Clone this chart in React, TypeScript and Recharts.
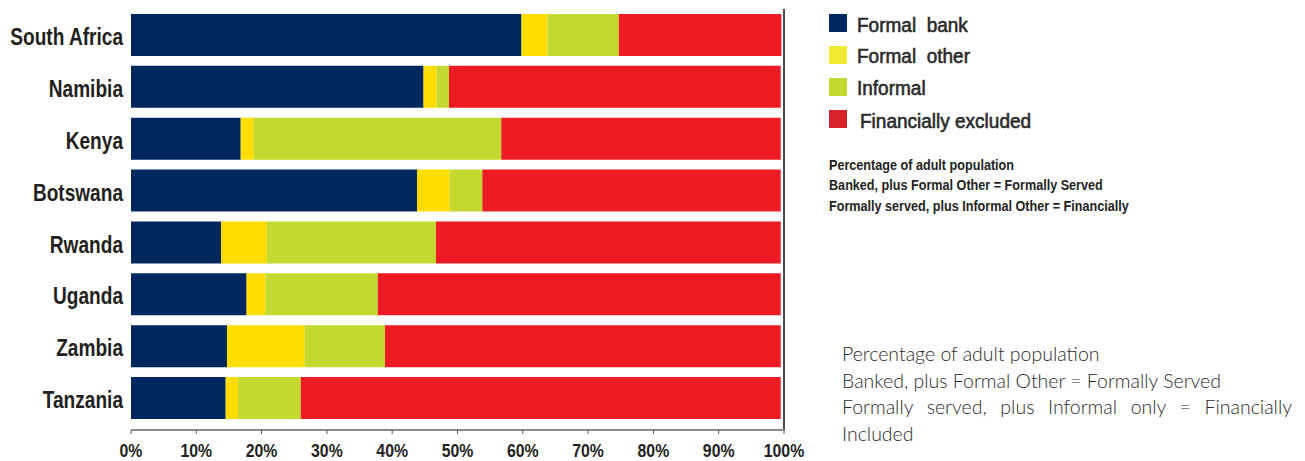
import React from "react";
import { BarChart, Bar, XAxis, YAxis, ReferenceLine } from "recharts";

const countries = ["South Africa", "Namibia", "Kenya", "Botswana", "Rwanda", "Uganda", "Zambia", "Tanzania"];
const formalBank = [59.8, 44.8, 16.8, 43.8, 13.8, 17.7, 14.7, 14.5];
const formalOther = [4.0, 2.0, 2.0, 5.0, 7.0, 2.9, 11.9, 1.9];
const informal = [10.9, 1.9, 37.9, 5.0, 25.9, 17.2, 12.3, 9.6];
const excluded = [24.9, 50.8, 42.8, 45.7, 52.8, 61.7, 60.6, 73.5];
const xTicks = [0, 10, 20, 30, 40, 50, 60, 70, 80, 90, 100];

const seriesNames = ["Formal  bank", "Formal  other", "Informal", "Financially excluded"];
const barColors = ["#00285e", "#ffdd00", "#c3d92f", "#ed1c24"];
const legendColors = ["#00285e", "#f3ea33", "#c3d92f", "#d8222b"];

const notesSmall = [
  "Percentage of adult population",
  "Banked, plus Formal Other = Formally Served",
  "Formally served, plus Informal Other = Financially",
];

const data = countries.map((c, i) => ({
  country: c,
  bank: formalBank[i],
  other: formalOther[i],
  informal: informal[i],
  excluded: excluded[i],
}));

const SANS = "'Liberation Sans', Arial, sans-serif";

const YTick = (props: any) => {
  const { x, y, payload } = props;
  return (
    <g transform={`translate(${x},${y + 2})`}>
      <text
        transform="scale(0.83,1)"
        textAnchor="end"
        dy="0.355em"
        fill="#231f20"
        fontSize={23}
        fontWeight={700}
        fontFamily={SANS}
      >
        {payload.value}
      </text>
    </g>
  );
};

const XTick = (props: any) => {
  const { x, y, payload } = props;
  return (
    <g transform={`translate(${x},${y})`}>
      <text
        transform="scale(0.88,1)"
        textAnchor="middle"
        dy="0.71em"
        fill="#231f20"
        fontSize={18}
        fontWeight={700}
        fontFamily={SANS}
      >
        {`${payload.value}%`}
      </text>
    </g>
  );
};

export default function App() {
  const legendTops = [14, 45.5, 78, 110];
  const legendBaselines = [33, 64.4, 95.7, 128.7];
  return (
    <div style={{ position: "absolute", left: 0, top: 0, width: 1305, height: 461, background: "#fff", overflow: "hidden" }}>
      <BarChart
        width={1305}
        height={461}
        data={data}
        layout="vertical"
        margin={{ top: 9, right: 521, bottom: 0, left: 0 }}
        barCategoryGap="9.5%"
      >
        <XAxis
          type="number"
          domain={[0, 100]}
          ticks={xTicks}
          height={31}
          axisLine={{ stroke: "#8c8c8c", strokeWidth: 2 }}
          tickLine={{ stroke: "#555" }}
          tickSize={4}
          tickMargin={10}
          tick={<XTick />}
          interval={0}
        />
        <YAxis
          type="category"
          dataKey="country"
          width={131}
          axisLine={false}
          tickLine={false}
          padding={{ top: 0, bottom: 6 }}
          tick={<YTick />}
          interval={0}
        />
        <Bar dataKey="bank" stackId="a" fill={barColors[0]} isAnimationActive={false} />
        <Bar dataKey="other" stackId="a" fill={barColors[1]} isAnimationActive={false} />
        <Bar dataKey="informal" stackId="a" fill={barColors[2]} isAnimationActive={false} />
        <Bar dataKey="excluded" stackId="a" fill={barColors[3]} isAnimationActive={false} />
        <ReferenceLine x={100} stroke="#111" strokeWidth={1.5} ifOverflow="visible" />
      </BarChart>

      {seriesNames.map((name, i) => (
        <React.Fragment key={name}>
          <div
            style={{
              position: "absolute",
              left: 829,
              top: legendTops[i],
              width: 18,
              height: 18,
              background: legendColors[i],
            }}
          />
          <div
            style={{
              position: "absolute",
              left: i === 3 ? 860 : 857,
              top: legendBaselines[i] - 18,
              fontFamily: SANS,
              fontSize: 20,
              fontWeight: 400,
              lineHeight: "20px",
              color: "#2a2a2a",
              whiteSpace: "pre",
              transform: "scaleX(0.95)",
              transformOrigin: "left center",
              WebkitTextStroke: "0.6px #2a2a2a",
            }}
          >
            {name}
          </div>
        </React.Fragment>
      ))}

      <div
        style={{
          position: "absolute",
          left: 829,
          top: 155,
          fontFamily: SANS,
          fontSize: 14.5,
          fontWeight: 700,
          lineHeight: "20.3px",
          color: "#231f20",
          whiteSpace: "pre",
          transform: "scaleX(0.87)",
          transformOrigin: "left top",
        }}
      >
        {notesSmall.map((t) => (
          <div key={t}>{t}</div>
        ))}
      </div>

      <div
        style={{
          position: "absolute",
          left: 842,
          top: 341,
          width: 450,
          fontFamily: "Lato, 'Open Sans', sans-serif",
          fontSize: 19.5,
          fontWeight: 300,
          lineHeight: "26.5px",
          color: "#2a2a2a",
        }}
      >
        <div style={{ whiteSpace: "pre" }}>Percentage of adult population</div>
        <div style={{ whiteSpace: "pre" }}>Banked, plus Formal Other = Formally Served</div>
        <div style={{ textAlign: "justify", textAlignLast: "justify" as any }}>
          Formally served, plus Informal only = Financially
        </div>
        <div>Included</div>
      </div>
    </div>
  );
}
